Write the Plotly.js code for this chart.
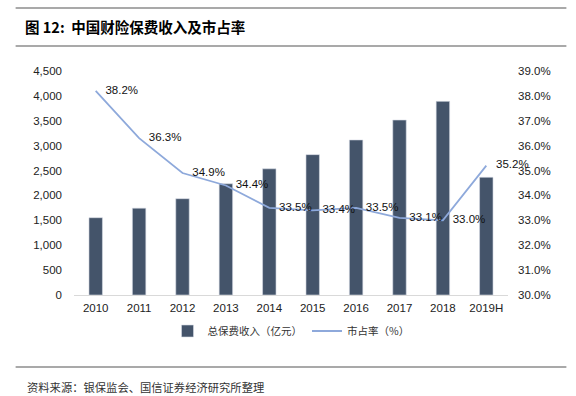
<!DOCTYPE html>
<html>
<head>
<meta charset="utf-8">
<script src="https://cdn.plot.ly/plotly-3.0.1.min.js"></script>
<style>html,body{margin:0;padding:0;background:#fff;}#chart{width:576px;height:396px;}</style>
</head>
<body>
<div id="chart"></div>
<script>
const categories = ['2010','2011','2012','2013','2014','2015','2016','2017','2018','2019H'];
const premium = [1553, 1745, 1935, 2235, 2535, 2820, 3115, 3515, 3890, 2365];
const share = [38.2, 36.3, 34.9, 34.4, 33.5, 33.4, 33.5, 33.1, 33.0, 35.2];
const shareLabels = share.map(v => v.toFixed(1) + '%');
const leftTicks = [0,500,1000,1500,2000,2500,3000,3500,4000,4500];
const rightTicks = [30,31,32,33,34,35,36,37,38,39];

const L = 74.3, R = 507.7, T = 71, B = 295;
const W = 576, H = 396;
const px = x => (x - L) / (R - L);
const py = y => (B - y) / (B - T);

const cjk = '"Noto Sans CJK SC", "Noto Sans", sans-serif';
const sans = '"Liberation Sans", Arial, sans-serif';

const traces = [
  {
    type: 'bar', x: categories, y: premium, name: '总保费收入（亿元）',
    marker: {color: '#44546A', line: {color: '#D6DCE5', width: 0.6}},
    yaxis: 'y', hoverinfo: 'skip'
  },
  {
    type: 'scatter', mode: 'lines+markers+text', x: categories, y: share, name: '市占率（%）',
    text: shareLabels, textposition: 'middle right',
    textfont: {family: sans, size: 11.5, color: '#111'},
    marker: {size: 14, color: 'rgba(0,0,0,0)', line: {width: 0}},
    line: {color: '#8EA9DB', width: 1.8}, yaxis: 'y2', cliponaxis: false, hoverinfo: 'skip'
  }
];

const layout = {
  width: W, height: H,
  margin: {l: L, r: W - R, t: T, b: H - B, pad: 0},
  paper_bgcolor: '#fff', plot_bgcolor: '#fff',
  showlegend: true,
  bargap: 0.69,
  title: {
    text: '<b>图 12:  中国财险保费收入及市占率</b>',
    font: {family: cjk, size: 14.5, color: '#000'},
    xref: 'container', yref: 'container', x: 25 / W, xanchor: 'left', y: 1 - 28 / H, yanchor: 'middle'
  },
  xaxis: {
    type: 'category', tickvals: categories, ticktext: categories,
    showline: true, linecolor: '#D9D9D9', linewidth: 1, ticks: '', showgrid: false, zeroline: false,
    tickfont: {family: sans, size: 11.5, color: '#222'}, ticklabelstandoff: 2,
    range: [-0.5, 9.5]
  },
  yaxis: {
    range: [0, 4500], tickvals: leftTicks, ticktext: leftTicks.map(v => v.toLocaleString('en-US')),
    showgrid: false, zeroline: false, showline: false, ticks: '',
    tickfont: {family: sans, size: 11.5, color: '#222'}, ticklabelstandoff: 11
  },
  yaxis2: {
    overlaying: 'y', side: 'right', range: [30, 39], tickvals: rightTicks,
    ticktext: rightTicks.map(v => v.toFixed(1) + '%'),
    showgrid: false, zeroline: false, showline: false, ticks: '',
    tickfont: {family: sans, size: 11.5, color: '#222'}, ticklabelstandoff: 9
  },
  legend: {
    orientation: 'h', x: 0.5, xanchor: 'center', y: py(331), yanchor: 'middle',
    font: {family: cjk, size: 10.5, color: '#333'}, itemwidth: 30, tracegroupgap: 0,
    bgcolor: 'rgba(0,0,0,0)'
  },
  shapes: [
    {type: 'line', xref: 'paper', yref: 'paper', x0: px(16), x1: px(566), y0: py(8), y1: py(8), line: {color: '#8C8C8C', width: 1.5}},
    {type: 'line', xref: 'paper', yref: 'paper', x0: px(16), x1: px(566), y0: py(46), y1: py(46), line: {color: '#8C8C8C', width: 1.5}},
    {type: 'line', xref: 'paper', yref: 'paper', x0: px(16), x1: px(566), y0: py(367), y1: py(367), line: {color: '#8C8C8C', width: 1.5}}
  ],
  annotations: [
    {text: '资料来源：银保监会、国信证券经济研究所整理', xref: 'paper', yref: 'paper', x: px(25), y: py(387),
     xanchor: 'left', yanchor: 'middle', showarrow: false, font: {family: cjk, size: 11.3, color: '#333'}}
  ]
};

Plotly.newPlot('chart', traces, layout, {displayModeBar: false, staticPlot: true});
</script>
</body>
</html>
